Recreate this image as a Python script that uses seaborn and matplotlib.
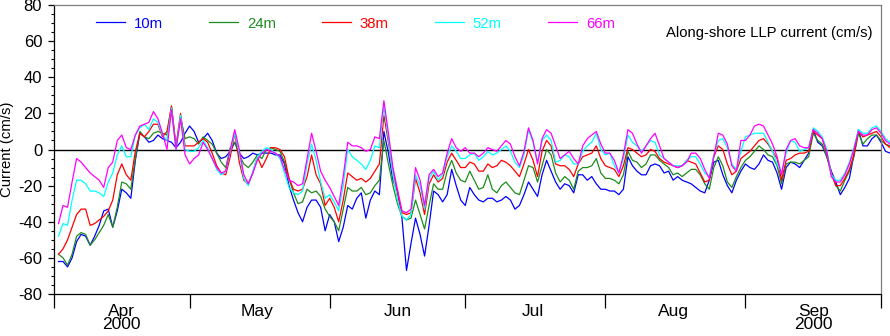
import numpy as np
import pandas as pd
import matplotlib
matplotlib.use("Agg")
import matplotlib.pyplot as plt
import matplotlib.dates as mdates
from matplotlib.ticker import MultipleLocator, NullFormatter, FuncFormatter
import seaborn as sns

# ---------------- data (daily, starting 2000-04-02) ----------------
start_date = "2000-04-02"
depths = ["10m", "24m", "38m", "52m", "66m"]
colors = ["#0000FF", "#1E8B1E", "#FF0000", "#00FFFF", "#FF00FF"]

v10 = [
    # Apr 2-30
    -62, -62, -65, -60, -51, -47, -48, -53, -48, -42, -34, -33, -43, -34, -22, -24, -27, -6, 9, 7, 4, 5, 8, 6, 5, 4, 1, 4, 9,
    # May
    13, 10, 4, 6, 9, 5, -2, -5, -4, -1, 4, -2, -5, -4, -2, -3, -2, -2, -2, -3, -3, -8, -20, -28, -35, -40, -32, -28, -28, -32, -45,
    # Jun
    -36, -40, -51, -43, -31, -33, -27, -24, -38, -28, -23, -25, 10, -2, -17, -23, -38, -67, -52, -38, -47, -59, -42, -23, -25, -29, -25, -11, -20, -28, -31,
    # Jul
    -21, -25, -28, -29, -27, -27, -29, -28, -26, -28, -33, -31, -25, -18, -22, -26, -14, -6, -12, -18, -22, -19, -20, -24, -14, -14, -17, -15, -19, -22,
    # Aug
    -22, -23, -23, -25, -22, -4, -9, -12, -14, -14, -9, -8, -9, -13, -12, -17, -15, -17, -18, -19, -21, -23, -24, -17, -7, -6, -14, -20, -24, -17, -12,
    # Sep - Oct 3
    -8, -10, -11, -8, -3, -6, -7, -13, -22, -10, -7, -8, -10, -6, -2, 11, 4, 2, -4, -12, -18, -25, -21, -16, -3, 11, 2, 2, 6, 8, 4, -1, -2,
]
v24 = [
    -58, -60, -64, -58, -48, -46, -47, -53, -50, -46, -42, -36, -43, -32, -18, -19, -22, -5, 10, 7, 6, 9, 10, 9, 8, 24, 1, 18, 6,
    7, 6, 3, 7, 5, 3, -2, -7, -10, 1, 4, -3, -8, -10, -7, -3, -5, 0, 1, 0, -1, -7, -16, -24, -30, -29, -22, -24, -23, -26, -33,
    -37, -40, -45, -33, -21, -23, -23, -21, -25, -24, -20, -17, 5, -8, -20, -30, -37, -39, -38, -28, -36, -44, -31, -19, -22, -22, -12, -6, -13, -17, -18,
    -12, -17, -22, -21, -14, -22, -24, -20, -18, -21, -24, -25, -17, -9, -10, -18, -9, 0, -3, -13, -18, -15, -17, -22, -12, -10, -10, -9, -5, -13,
    -16, -16, -17, -19, -14, -1, -6, -7, -10, -8, -3, -3, -6, -8, -10, -14, -13, -15, -13, -11, -11, -14, -19, -22, -10, -4, -9, -18, -21, -15, -10,
    -6, -4, -1, 2, 0, -3, -4, -9, -19, -8, -7, -7, -8, -6, -4, 9, 5, 3, -4, -13, -20, -23, -17, -12, -4, 9, 3, 6, 8, 8, 5, 3, 2,
]
v38 = [
    -58, -55, -50, -43, -36, -33, -33, -42, -41, -39, -37, -34, -28, -14, -8, -14, -17, -1, 9, 7, 10, 14, 14, 7, 10, 24, 2, 20, 2,
    2, 2, 4, 6, 4, -2, -9, -13, -14, -4, 9, -7, -17, -19, -13, -4, -10, -5, 1, 1, 0, -4, -16, -22, -23, -22, -15, -3, -14, -19, -31,
    -27, -32, -40, -28, -13, -15, -17, -16, -18, -16, -12, -8, 19, 4, -12, -24, -35, -36, -35, -16, -24, -36, -19, -14, -18, -16, -7, -2, -6, -10, -10,
    -7, -8, -12, -12, -8, -10, -9, -6, -7, -9, -12, -15, -8, 0, -6, -15, -1, 5, 2, -8, -9, -9, -11, -15, -8, -4, -3, -2, 2, -5,
    -9, -10, -11, -15, -9, 1, 0, -2, -4, -3, 0, -1, -5, -7, -8, -9, -10, -9, -6, -7, -8, -13, -18, -17, -4, 2, 0, -8, -14, -12, -5,
    -3, -1, 2, 5, 6, 3, -1, -5, -17, -6, -5, -3, -2, -2, -1, 10, 8, 6, -2, -13, -20, -20, -16, -11, -3, 10, 7, 8, 9, 10, 7, 3, 1,
]
v52 = [
    -48, -41, -42, -28, -17, -17, -19, -23, -23, -24, -26, -18, -13, -3, 2, -4, -4, 8, 12, 14, 11, 17, 15, 8, 5, 23, 0, 19, 0,
    -1, -1, 1, 5, 1, -5, -11, -14, -12, -1, 9, -2, -16, -20, -12, -4, -1, 1, 0, -2, -5, -13, -21, -24, -25, -23, -8, 3, -6, -18, -27,
    -25, -29, -34, -20, 0, -4, -6, -8, -11, -6, 2, 1, 24, 6, -14, -28, -37, -39, -36, -14, -20, -33, -16, -12, -17, -14, -4, 2, -1, -5, -5,
    -3, -2, -6, -4, -1, -3, -2, 0, 2, -1, -7, -10, -3, 11, 4, -7, 5, 8, 5, -7, -6, -3, -4, -8, -8, -1, 2, 4, 9, 0,
    -3, -2, -9, -13, -5, 8, 4, 2, -1, 2, 5, 4, -3, -5, -7, -9, -9, -9, -6, -4, -4, -8, -13, -15, -3, 5, 6, 1, -8, -11, -1,
    7, 8, 9, 9, 9, 4, -1, -8, -13, -2, 5, 4, -1, 0, 1, 12, 10, 7, 0, -14, -17, -17, -13, -7, 1, 11, 9, 9, 12, 13, 10, 6, 4,
]
v66 = [
    -41, -31, -32, -18, -5, -7, -10, -13, -15, -17, -21, -10, -7, 5, 8, 1, 0, 8, 13, 14, 15, 21, 17, 9, 0, 22, 0, 17, -3,
    -8, -5, -3, 4, 0, -5, -10, -13, -12, 0, 11, 0, -14, -19, -13, -6, -2, 0, -1, -2, -4, -11, -17, -18, -20, -19, -5, 9, -1, -12, -17,
    -21, -26, -31, -15, 4, 2, 2, 1, -1, 0, 7, 6, 27, 9, -10, -22, -34, -35, -33, -10, -17, -31, -14, -11, -15, -13, -2, 6, 1, -1, 1,
    -2, -2, -4, -2, 1, 0, -1, 2, 5, 3, -4, -9, -1, 12, 5, -8, 6, 11, 9, 2, -5, -3, -1, -5, -8, 2, 6, 8, 10, 3,
    -2, -2, -6, -13, -3, 11, 9, 3, -2, 2, 6, 9, 2, -5, -7, -9, -10, -9, -7, -2, -2, -5, -11, -16, -4, 9, 8, 3, -9, -12, 5,
    5, 8, 13, 14, 13, 8, 3, -4, -14, 0, 5, 6, 2, 1, 1, 11, 9, 6, -1, -15, -18, -18, -14, -8, 0, 10, 8, 8, 11, 12, 9, 5, 3,
]

month_labels = ["Apr\n2000", "May", "Jun", "Jul", "Aug", "Sep\n2000"]
y_ticks = [-80, -60, -40, -20, 0, 20, 40, 60, 80]

# ---------------- build long-form table ----------------
series = [v10, v24, v38, v52, v66]
dates = pd.date_range(start_date, periods=len(v10), freq="D")
frames = []
for name, vals in zip(depths, series):
    frames.append(pd.DataFrame({"date": dates, "current": vals, "depth": name}))
df = pd.concat(frames, ignore_index=True)

# ---------------- figure ----------------
plt.rcParams["font.family"] = ["Liberation Sans", "DejaVu Sans"]
fig = plt.figure(figsize=(8.9, 3.36), dpi=100)
ax = fig.add_axes([54 / 890, 1 - 294 / 336, 827 / 890, 289 / 336])

sns.lineplot(data=df, x="date", y="current", hue="depth", hue_order=depths,
             palette=dict(zip(depths, colors)), linewidth=0.9, errorbar=None,
             legend=False, ax=ax)
data_lines = list(ax.lines)
for ln in data_lines:
    ln.set_clip_on(False)
    ln.set_solid_joinstyle("round")

ax.axhline(0, color="black", linewidth=1.0, zorder=1)

# axes limits / ticks
ax.set_xlim(pd.Timestamp("2000-04-01"), pd.Timestamp("2000-10-01"))
ax.set_ylim(-80, 80)
ax.set_yticks(y_ticks)
ax.set_yticklabels([str(v) for v in y_ticks])
ax.yaxis.set_minor_locator(MultipleLocator(5))
ax.tick_params(axis="y", which="major", direction="out", length=4.5, width=0.9,
               labelsize=12, pad=4)
ax.tick_params(axis="y", which="minor", direction="out", length=2.5, width=0.8)

ax.xaxis.set_major_locator(mdates.MonthLocator())
ax.xaxis.set_major_formatter(NullFormatter())
ax.xaxis.set_minor_locator(mdates.MonthLocator(bymonthday=16))
lab_map = dict(zip([4, 5, 6, 7, 8, 9], month_labels))
ax.xaxis.set_minor_formatter(FuncFormatter(
    lambda x, pos: lab_map.get(mdates.num2date(x).month, "")))
ax.tick_params(axis="x", which="major", direction="out", length=10, width=0.9)
ax.tick_params(axis="x", which="minor", length=0, labelsize=12.5, pad=7.5)
for t in ax.xaxis.get_minorticklabels():
    t.set_linespacing(0.82)

ax.set_xlabel("")
ax.set_ylabel("Current (cm/s)", fontsize=10.7, va="center")
ax.yaxis.set_label_coords(-0.0574, 0.5)

for side in ["left", "bottom"]:
    ax.spines[side].set_color("black")
    ax.spines[side].set_linewidth(0.9)
for side in ["top", "right"]:
    ax.spines[side].set_color("#7f7f7f")
    ax.spines[side].set_linewidth(0.9)

# legend
leg = ax.legend(data_lines, depths, loc="center left",
                bbox_to_anchor=(96 / 890, 1 - 23.5 / 336),
                bbox_transform=fig.transFigure, ncol=5, frameon=False,
                fontsize=10.7, handlelength=1.95, handletextpad=0.6,
                columnspacing=3.1, borderpad=0, borderaxespad=0)
for txt, c in zip(leg.get_texts(), colors):
    txt.set_color(c)

fig.text(872 / 890, 1 - 33 / 336, "Along-shore LLP current (cm/s)",
         ha="right", va="center", fontsize=10.7)

fig.savefig("out.png", dpi=100)
